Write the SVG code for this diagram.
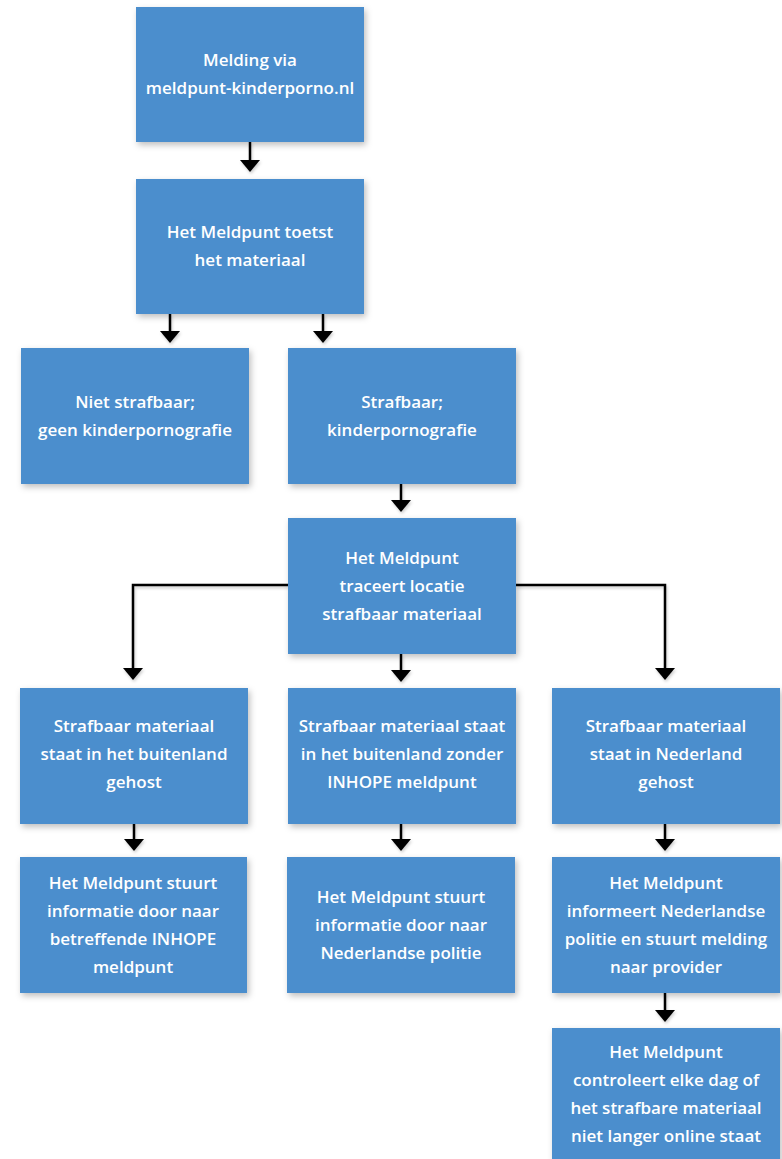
<svg xmlns="http://www.w3.org/2000/svg" width="782" height="1159" viewBox="0 0 782 1159">
<style>
.box{fill:#4c8ecd;filter:url(#sh)}
.t{font-family:"Open Sans","Liberation Sans",sans-serif;font-weight:600;font-size:17px;fill:#ffffff;text-anchor:middle}
.c{fill:none;stroke:#000;stroke-width:2.5;marker-end:url(#ah)}
</style>
<defs>
<filter id="sh" x="-10%" y="-10%" width="130%" height="130%"><feDropShadow dx="2" dy="3" stdDeviation="3" flood-color="#000" flood-opacity="0.25"/></filter>
<filter id="lsh" filterUnits="userSpaceOnUse" x="0" y="0" width="782" height="1159"><feDropShadow dx="1" dy="2" stdDeviation="1.5" flood-color="#000" flood-opacity="0.2"/></filter>
<marker id="ah" markerUnits="userSpaceOnUse" markerWidth="14" markerHeight="22" viewBox="0 -11 14 22" refX="0" refY="0" orient="auto"><path d="M0,-10 L12,0 L0,10 z" fill="#000"/></marker>
</defs>
<rect width="782" height="1159" fill="#fff"/>
<g id="connectors" filter="url(#lsh)">
<path class="c" d="M250,142 V160"/>
<path class="c" d="M170,314 V331"/>
<path class="c" d="M323,314 V331"/>
<path class="c" d="M401,484 V500"/>
<path class="c" d="M288,585 H133 V668"/>
<path class="c" d="M401,654 V670"/>
<path class="c" d="M516,585 H665 V668"/>
<path class="c" d="M134,824 V839"/>
<path class="c" d="M401,824 V839"/>
<path class="c" d="M665,824 V839"/>
<path class="c" d="M665,993 V1010"/>
</g>
<g id="n1"><rect class="box" x="136" y="7" width="228" height="135"/>
<text class="t" x="250" y="66">Melding via</text><text class="t" x="250" y="94">meldpunt-kinderporno.nl</text></g>
<g id="n2"><rect class="box" x="136" y="179" width="228" height="135"/>
<text class="t" x="250" y="238">Het Meldpunt toetst</text><text class="t" x="250" y="266">het materiaal</text></g>
<g id="n3"><rect class="box" x="21" y="348" width="228" height="136"/>
<text class="t" x="135" y="408">Niet strafbaar;</text><text class="t" x="135" y="436">geen kinderpornografie</text></g>
<g id="n4"><rect class="box" x="288" y="348" width="228" height="136"/>
<text class="t" x="402" y="408">Strafbaar;</text><text class="t" x="402" y="436">kinderpornografie</text></g>
<g id="n5"><rect class="box" x="288" y="518" width="228" height="136"/>
<text class="t" x="402" y="564">Het Meldpunt</text><text class="t" x="402" y="592">traceert locatie</text><text class="t" x="402" y="620">strafbaar materiaal</text></g>
<g id="n6"><rect class="box" x="20" y="688" width="228" height="136"/>
<text class="t" x="134" y="732">Strafbaar materiaal</text><text class="t" x="134" y="760">staat in het buitenland</text><text class="t" x="134" y="788">gehost</text></g>
<g id="n7"><rect class="box" x="288" y="688" width="228" height="136"/>
<text class="t" x="402" y="732">Strafbaar materiaal staat</text><text class="t" x="402" y="760">in het buitenland zonder</text><text class="t" x="402" y="788">INHOPE meldpunt</text></g>
<g id="n8"><rect class="box" x="552" y="688" width="228" height="136"/>
<text class="t" x="666" y="732">Strafbaar materiaal</text><text class="t" x="666" y="760">staat in Nederland</text><text class="t" x="666" y="788">gehost</text></g>
<g id="n9"><rect class="box" x="20" y="857" width="227" height="136"/>
<text class="t" x="133" y="889">Het Meldpunt stuurt</text><text class="t" x="133" y="917">informatie door naar</text><text class="t" x="133" y="945">betreffende INHOPE</text><text class="t" x="133" y="973">meldpunt</text></g>
<g id="n10"><rect class="box" x="287" y="857" width="228" height="136"/>
<text class="t" x="401" y="903">Het Meldpunt stuurt</text><text class="t" x="401" y="931">informatie door naar</text><text class="t" x="401" y="959">Nederlandse politie</text></g>
<g id="n11"><rect class="box" x="552" y="857" width="228" height="136"/>
<text class="t" x="666" y="889">Het Meldpunt</text><text class="t" x="666" y="917">informeert Nederlandse</text><text class="t" x="666" y="945">politie en stuurt melding</text><text class="t" x="666" y="973">naar provider</text></g>
<g id="n12"><rect class="box" x="552" y="1028" width="228" height="136"/>
<text class="t" x="666" y="1058">Het Meldpunt</text><text class="t" x="666" y="1086">controleert elke dag of</text><text class="t" x="666" y="1114">het strafbare materiaal</text><text class="t" x="666" y="1142">niet langer online staat</text></g>
</svg>
